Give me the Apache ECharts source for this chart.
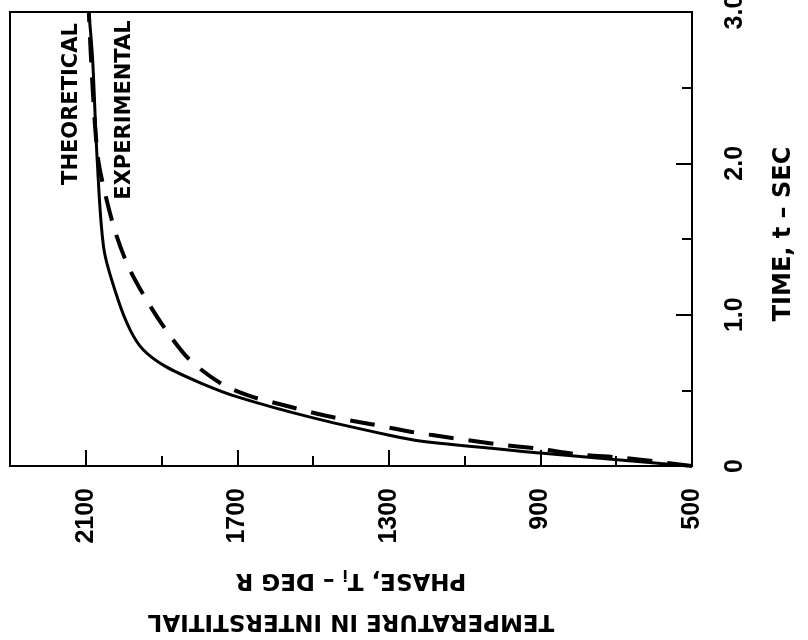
<!DOCTYPE html>
<html>
<head>
<meta charset="utf-8">
<script src="https://cdn.jsdelivr.net/npm/echarts@6/dist/echarts.min.js"></script>
<style>
  html, body { margin: 0; padding: 0; background: #fff; }
  #chart { width: 808px; height: 640px; }
</style>
</head>
<body>
<div id="chart"></div>
<script>
// Interstitial-phase temperature against time: theoretical vs experimental.
// Time runs up the right-hand axis, temperature runs right-to-left along the bottom.
const theoTime = [0, 0.04, 0.086, 0.165, 0.205, 0.318, 0.457, 0.55, 0.66, 0.77, 0.90, 1.10, 1.43, 2.03, 2.69, 3.0];
const theoTemp = [510, 690, 900, 1218, 1302, 1500, 1700, 1798, 1891, 1949, 1983, 2015, 2052, 2070, 2082, 2092];

const expTime = [0, 0.053, 0.076, 0.113, 0.146, 0.185, 0.225, 0.278, 0.33, 0.40, 0.46, 0.54, 0.70, 0.88, 1.09, 1.31, 1.53, 1.80, 2.04, 2.5, 3.0];
const expTemp = [500, 677, 796, 901, 1020, 1133, 1239, 1350, 1463, 1574, 1664, 1740, 1825, 1883, 1938, 1986, 2020, 2049, 2068, 2082, 2092];

const tempTickLabels = [500, 900, 1300, 1700, 2100];
const timeTickValues = [0, 1, 2, 3];
const timeTickText = ['0', '1.0', '2.0', '3.0'];

const theoData = theoTime.map((t, i) => [theoTemp[i], t]);
const expData = expTime.map((t, i) => [expTemp[i], t]);

const INK = '#000';
const LABEL_FONT = "'Liberation Sans', Arial, sans-serif";
const TITLE_FONT = "'DejaVu Sans', sans-serif";

const tickLabelStyle = {
  color: INK, fontFamily: LABEL_FONT, fontWeight: 'bold', fontSize: 25
};

const chart = echarts.init(document.getElementById('chart'), null, { renderer: 'canvas' });

chart.setOption({
  animation: false,
  backgroundColor: '#fff',
  grid: {
    left: 10, right: 116, top: 12, bottom: 174,
    outerBoundsMode: 'none',
    containLabel: false,
    show: true, borderColor: INK, borderWidth: 2, backgroundColor: 'transparent'
  },
  xAxis: [
    {
      type: 'value', min: 500, max: 2300, interval: 200, inverse: true, position: 'bottom',
      axisLine: { show: true, onZero: false, lineStyle: { color: INK, width: 2 } },
      axisTick: { show: true, inside: true, length: 10, lineStyle: { color: INK, width: 2 } },
      splitLine: { show: false },
      axisLabel: Object.assign({
        rotate: 90, margin: 22,
        formatter: v => tempTickLabels.includes(v) ? String(v) : ''
      }, tickLabelStyle),
      name: '{a|TEMPERATURE IN INTERSTITIAL}\n{a|PHASE, T}{s|i}{a| \u2013 DEG R}',
      nameLocation: 'middle',
      nameRotate: 180,
      nameGap: 93,
      nameTextStyle: {
        lineHeight: 41,
        rich: {
          a: { fontFamily: TITLE_FONT, fontWeight: 'bold', fontSize: 23, color: INK, lineHeight: 41 },
          s: { fontFamily: TITLE_FONT, fontWeight: 'bold', fontSize: 15, color: INK, padding: [12, 0, 0, 0] }
        }
      }
    },
    {
      type: 'value', min: 500, max: 2300, interval: 400, inverse: true, position: 'bottom',
      axisLine: { show: false, onZero: false },
      axisTick: { show: true, inside: true, length: 16, lineStyle: { color: INK, width: 2 } },
      axisLabel: { show: false },
      splitLine: { show: false }
    }
  ],
  yAxis: [
    {
      type: 'value', min: 0, max: 3, interval: 0.5, position: 'right',
      axisLine: { show: true, onZero: false, lineStyle: { color: INK, width: 2 } },
      axisTick: { show: true, inside: true, length: 10, lineStyle: { color: INK, width: 2 } },
      splitLine: { show: false },
      axisLabel: Object.assign({
        rotate: 90, margin: 31,
        formatter: v => {
          const k = timeTickValues.indexOf(v);
          return k >= 0 ? timeTickText[k] : '';
        }
      }, tickLabelStyle),
      name: 'TIME, t \u2013 SEC',
      nameLocation: 'middle',
      nameGap: 80,
      nameTextStyle: {
        fontFamily: TITLE_FONT, fontWeight: 'bold', fontSize: 24, color: INK,
        padding: [0, 0, 0, 10]
      }
    },
    {
      type: 'value', min: 0, max: 3, interval: 1, position: 'right',
      axisLine: { show: false, onZero: false },
      axisTick: { show: true, inside: true, length: 16, lineStyle: { color: INK, width: 2 } },
      axisLabel: { show: false },
      splitLine: { show: false }
    }
  ],
  series: [
    {
      name: 'THEORETICAL', type: 'line', xAxisIndex: 0, yAxisIndex: 0,
      data: theoData, symbol: 'none', smooth: 0.3,
      lineStyle: { color: INK, width: 3 }
    },
    {
      name: 'EXPERIMENTAL', type: 'line', xAxisIndex: 0, yAxisIndex: 0,
      data: expData, symbol: 'none', smooth: 0.3,
      lineStyle: { color: INK, width: 4, type: [25, 15] }
    }
  ],
  graphic: [
    {
      type: 'text', x: 72, y: 104, rotation: Math.PI / 2,
      style: {
        text: 'THEORETICAL', fill: INK, font: "bold 21px 'DejaVu Sans', sans-serif",
        align: 'center', verticalAlign: 'middle'
      }
    },
    {
      type: 'text', x: 125, y: 110, rotation: Math.PI / 2,
      style: {
        text: 'EXPERIMENTAL', fill: INK, font: "bold 21px 'DejaVu Sans', sans-serif",
        align: 'center', verticalAlign: 'middle'
      }
    }
  ]
});
</script>
</body>
</html>
